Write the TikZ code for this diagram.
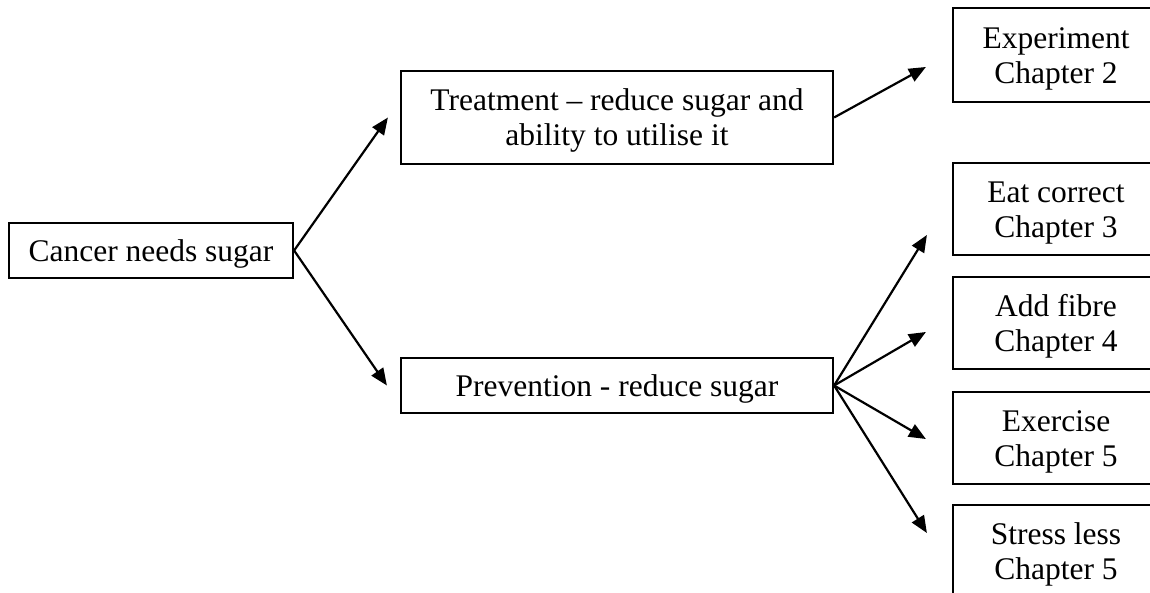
\documentclass[tikz,border=0pt]{standalone}
\usepackage{fontspec}
\setmainfont{Liberation Serif}
\usetikzlibrary{arrows.meta}
\newcommand{\boxtext}[1]{\raisebox{-4pt}[\height][\depth]{\begin{tabular}{@{}c@{}}#1\end{tabular}}}
\begin{document}
\begin{tikzpicture}[x=1pt,y=-1pt,
  box/.style={draw=black, line width=2.2pt, inner sep=0pt,
    font=\fontsize{31.5}{35}\selectfont},
  conn/.style={line width=2.2pt, -{Triangle[length=17pt,width=14pt]}}]
\useasboundingbox (0,0) rectangle (1150,593);
\clip (0,0) rectangle (1150,593);
\fill[white] (0,0) rectangle (1150,593);
\node[box, minimum width=284pt, minimum height=55pt] (cancer) at (151,250.5) {\boxtext{Cancer needs sugar}};
\node[box, minimum width=432pt, minimum height=93pt] (treat) at (617,117.5) {\boxtext{Treatment – reduce sugar and\\ability to utilise it}};
\node[box, minimum width=432pt, minimum height=55pt] (prev) at (617,385.5) {\boxtext{Prevention - reduce sugar}};
\node[box, minimum width=206pt, minimum height=94pt] (exp) at (1056,55) {\boxtext{Experiment\\Chapter 2}};
\node[box, minimum width=206pt, minimum height=92pt] (eat) at (1056,209) {\boxtext{Eat correct\\Chapter 3}};
\node[box, minimum width=206pt, minimum height=92pt] (fibre) at (1056,323) {\boxtext{Add fibre\\Chapter 4}};
\node[box, minimum width=206pt, minimum height=92pt] (exer) at (1056,438) {\boxtext{Exercise\\Chapter 5}};
\node[box, minimum width=206pt, minimum height=92pt] (stress) at (1056,551) {\boxtext{Stress less\\Chapter 5}};
\draw[conn] (cancer.east) -- ([xshift=-12pt]treat.west);
\draw[conn] (cancer.east) -- ([xshift=-13pt]prev.west);
\draw[conn] (treat.east) -- ([xshift=-26pt,yshift=-12pt]exp.west);
\draw[conn] (prev.east) -- ([xshift=-25pt,yshift=-26pt]eat.west);
\draw[conn] (prev.east) -- ([xshift=-26pt,yshift=-9pt]fibre.west);
\draw[conn] (prev.east) -- ([xshift=-26pt,yshift=-1pt]exer.west);
\draw[conn] (prev.east) -- ([xshift=-25pt,yshift=18pt]stress.west);
\end{tikzpicture}
\end{document}
